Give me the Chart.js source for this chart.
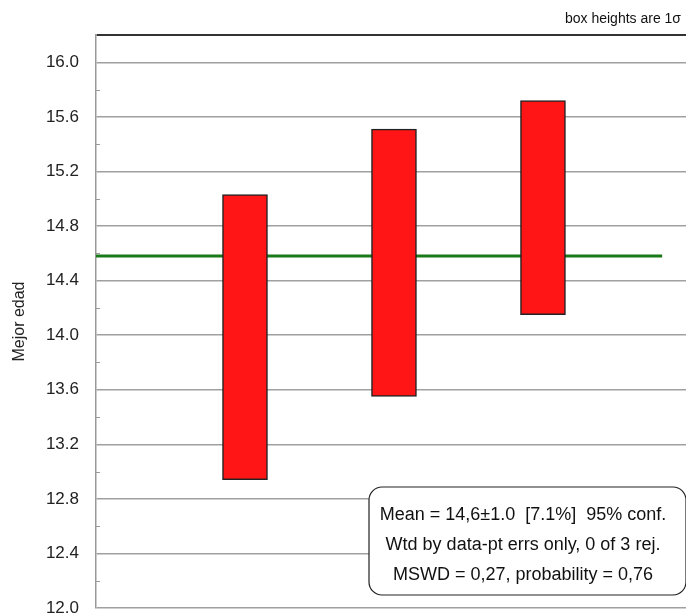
<!DOCTYPE html>
<html><head><meta charset="utf-8">
<script src="https://cdn.jsdelivr.net/npm/chart.js@4"></script>
<style>html,body{margin:0;padding:0;background:#fff}#wrap{width:686px;height:614px}</style>
</head><body><div id="wrap"><canvas id="c" width="686" height="614"></canvas></div>
<script>
const samples = [1, 2, 3];
const boxLow = [12.94, 13.55, 14.15];
const boxHigh = [15.03, 15.51, 15.72];
const meanLineX = [0, 3.8];
const meanValue = 14.58;
const yTicksMajor = [12.0, 12.4, 12.8, 13.2, 13.6, 14.0, 14.4, 14.8, 15.2, 15.6, 16.0];
const yAxisTitle = 'Mejor edad';
const cornerNote = 'box heights are 1σ';
const statsLines = ['Mean = 14,6±1.0  [7.1%]  95% conf.', 'Wtd by data-pt errs only, 0 of 3 rej.', 'MSWD = 0,27, probability = 0,76'];

const FONT = '"Liberation Sans", Arial, sans-serif';
const isMajor = v => yTicksMajor.some(t => Math.abs(t - v) < 1e-6);

const extras = {
  id: 'extras',
  afterDraw(chart) {
    const ctx = chart.ctx, y = chart.scales.y, a = chart.chartArea;
    ctx.save();
    ctx.strokeStyle = '#999'; ctx.lineWidth = 1;
    for (let v = 12.2; v < 16.2; v += 0.4) {
      const py = Math.round(y.getPixelForValue(v)) + 0.5;
      ctx.beginPath(); ctx.moveTo(a.left, py); ctx.lineTo(a.left + 4, py); ctx.stroke();
    }
    ctx.fillStyle = '#111'; ctx.font = '14px ' + FONT;
    ctx.textAlign = 'right'; ctx.textBaseline = 'middle';
    ctx.fillText(cornerNote, 681, 19);
    const bx = 369, by = 487, bw = 317, bh = 108;
    ctx.beginPath(); ctx.roundRect(bx, by, bw, bh, 13);
    ctx.fillStyle = '#fff'; ctx.fill();
    ctx.strokeStyle = '#222'; ctx.lineWidth = 1.2; ctx.stroke();
    ctx.fillStyle = '#111'; ctx.font = '18px ' + FONT; ctx.textAlign = 'center';
    statsLines.forEach((t, i) => ctx.fillText(t, 523, 515 + i * 30));
    ctx.restore();
  }
};

new Chart(document.getElementById('c'), {
  data: {
    datasets: [
      {
        type: 'line',
        data: meanLineX.map(x => ({x, y: meanValue})),
        borderColor: '#1a7a1a', borderWidth: 3, pointRadius: 0, order: 2
      },
      {
        type: 'bar',
        data: samples.map((s, i) => ({x: s, y: [boxLow[i], boxHigh[i]]})),
        backgroundColor: '#ff1515', borderColor: '#222', borderWidth: 1.5,
        borderSkipped: false, barThickness: 45, order: 1
      }
    ]
  },
  options: {
    responsive: false, animation: false,
    layout: {padding: {top: 35, bottom: 6, left: 0, right: 0}},
    plugins: {legend: {display: false}, tooltip: {enabled: false}},
    scales: {
      x: {type: 'linear', min: 0, max: 3.96, offset: false, display: false},
      y: {
        min: 12.0, max: 16.2,
        afterFit(s) { s.width = 96; s.paddingTop = 0; s.paddingBottom = 0; },
        border: {display: true, color: '#999', width: 1.5},
        grid: {
          drawTicks: false,
          color: c => Math.abs(c.tick.value - 16.2) < 1e-6 ? '#333' : (isMajor(c.tick.value) ? '#a0a0a0' : 'rgba(0,0,0,0)'),
          lineWidth: c => Math.abs(c.tick.value - 16.2) < 1e-6 ? 2 : 1.5
        },
        ticks: {
          stepSize: 0.2, padding: 17, color: '#222', font: {family: FONT, size: 17},
          callback: v => isMajor(v) ? Number(v).toFixed(1) : ''
        },
        title: {display: true, text: yAxisTitle, color: '#222', font: {family: FONT, size: 16}, padding: {top: 10, bottom: 0}}
      }
    }
  },
  plugins: [extras]
});
</script></body></html>
